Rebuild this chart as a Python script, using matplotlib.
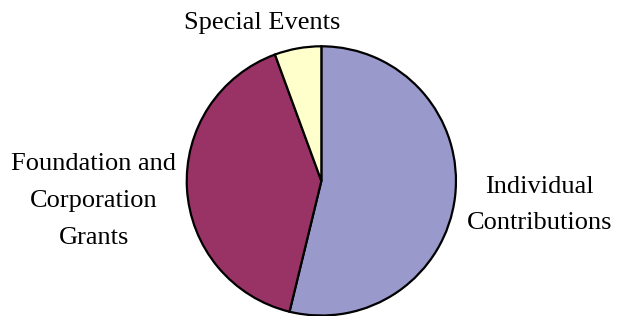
import matplotlib
matplotlib.use("Agg")
from matplotlib import pyplot as plt

# fatias do gráfico de pizza
categorias = ["Individual\nContributions", "Foundation and\nCorporation\nGrants", "Special Events"]
valores = [53.8, 40.6, 5.6]
cores = ["#9999CC", "#993366", "#FFFFCC"]

plt.rcParams['font.family'] = ['Liberation Serif', 'DejaVu Serif']

fig = plt.figure(figsize=(6.18, 3.16), dpi=100)
ax = fig.add_axes([0.300, -0.003, 0.440, 0.861])

ax.pie(valores, colors=cores, startangle=90, counterclock=False,
       wedgeprops={'edgecolor': 'black', 'linewidth': 1.6})
ax.set_xlim(-1.01, 1.01)
ax.set_ylim(-1.01, 1.01)
ax.set_aspect('equal')
ax.axis('off')

# rótulos fora da pizza
posicoes = [(1.62, -0.18), (-1.69, -0.15), (-0.44, 1.17)]
for nome, (x, y) in zip(categorias, posicoes):
    ax.text(x, y, nome, ha='center', va='center', fontsize=19,
            linespacing=1.86, clip_on=False)

fig.savefig("out.png", dpi=100, facecolor='white')
